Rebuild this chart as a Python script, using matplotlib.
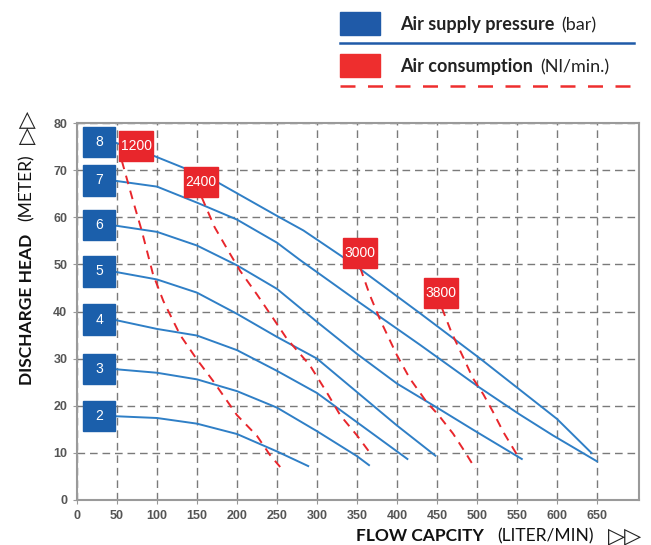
import numpy as np
import matplotlib.pyplot as plt
from matplotlib.patches import Rectangle
from matplotlib.lines import Line2D

# air supply pressure curves (bar) : flow l/min vs head m
pressures = [2, 3, 4, 5, 6, 7, 8]
flow2 = [45, 100, 150, 200, 250, 289]
head2 = [17.8, 17.4, 16.2, 14.0, 10.3, 7.2]
flow3 = [45, 100, 150, 200, 250, 300, 350, 365]
head3 = [27.8, 27.0, 25.6, 23.1, 19.6, 14.6, 9.3, 7.4]
flow4 = [45, 100, 150, 200, 250, 300, 350, 413]
head4 = [38.3, 36.3, 34.9, 31.8, 27.4, 22.7, 16.5, 8.7]
flow5 = [45, 100, 150, 200, 250, 300, 350, 400, 448]
head5 = [48.5, 46.8, 44.0, 39.5, 34.6, 30.0, 22.9, 15.8, 9.4]
flow6 = [45, 100, 150, 200, 250, 300, 350, 400, 450, 500, 556]
head6 = [58.3, 56.9, 54.0, 49.8, 44.8, 37.8, 31.0, 24.7, 19.6, 14.4, 8.7]
flow7 = [45, 100, 150, 200, 250, 279, 354, 429, 502, 552, 595, 650]
head7 = [67.8, 66.5, 63.1, 59.5, 54.6, 50.9, 41.8, 32.9, 24.0, 18.3, 13.7, 8.2]
flow8 = [45, 95, 133, 177, 252, 283, 331, 354, 429, 504, 552, 600, 643]
head8 = [76.0, 73.1, 70.5, 67.3, 60.1, 57.2, 51.7, 49.0, 39.6, 30.0, 23.6, 17.2, 10.0]

# air consumption lines (Nl/min)
consumptions = [1200, 2400, 3000, 3800]
c1200_flow = [56, 70, 81, 95, 108, 129, 150, 170, 200, 225, 241, 254]
c1200_head = [72, 63.5, 57.1, 47.9, 42.2, 35.0, 29.8, 25.3, 18.0, 13.6, 9.6, 7.0]
c2400_flow = [156, 172, 189, 204, 225, 245, 262, 291, 312, 329, 350, 368]
c2400_head = [64.2, 57.9, 52.9, 48.6, 43.6, 38.6, 34.3, 28.6, 22.9, 18.0, 13.7, 9.6]
c3000_flow = [354, 366, 379, 400, 416, 437, 452, 470, 485, 498]
c3000_head = [49.3, 43.5, 38.2, 30.7, 25.8, 20.8, 18.0, 14.1, 10.2, 6.6]
c3800_flow = [456, 468, 483, 495, 508, 520, 533, 550]
c3800_head = [40.8, 35.6, 30.2, 25.8, 22.4, 18.7, 14.4, 9.6]

x_ticks = list(range(0, 651, 50))
y_ticks = list(range(0, 81, 10))

BLUE = '#2f7fc6'
BOX_BLUE = '#1b5fab'
RED = '#e8262c'
W, H = 651, 545
TXT = ['Lato', 'DejaVu Sans']

fig = plt.figure(figsize=(W / 100, H / 100), dpi=100)
ax = fig.add_axes([77 / W, 1 - 500 / H, (639 - 77) / W, (500 - 123) / H])
ax.set_xlim(0, 702.5)
ax.set_ylim(0, 80)

ax.set_xticks(x_ticks)
ax.set_yticks(y_ticks)
ax.tick_params(length=3, color='#999999', labelsize=9, labelcolor='#555555', pad=4)
for lab in ax.get_xticklabels() + ax.get_yticklabels():
    lab.set_fontweight('bold')
    lab.set_family('Liberation Sans')
for sp in ax.spines.values():
    sp.set_color('#9a9a9a')
    sp.set_linewidth(1.5)
ax.grid(True, color='#7a7a7a', lw=1.0, linestyle=(0, (5.5, 3.5)))
ax.set_axisbelow(True)

flows = [flow2, flow3, flow4, flow5, flow6, flow7, flow8]
heads = [head2, head3, head4, head5, head6, head7, head8]
for p, f, h in zip(pressures, flows, heads):
    ax.plot(f, h, color=BLUE, lw=1.4, zorder=3)
    ax.add_patch(Rectangle((7.5, h[0] - 3.2), 40, 6.4, color=BOX_BLUE, zorder=4))
    ax.text(27.5, h[0], str(p), color='white', ha='center', va='center',
            fontsize=10, family='Liberation Sans', zorder=5)

c_flows = [c1200_flow, c2400_flow, c3000_flow, c3800_flow]
c_heads = [c1200_head, c2400_head, c3000_head, c3800_head]
label_x = [74, 155, 354, 455]
for c, f, h, lx in zip(consumptions, c_flows, c_heads, label_x):
    ax.plot(f, h, color=RED, lw=1.4, linestyle=(0, (4.5, 3.5)), zorder=3)
    ax.add_patch(Rectangle((lx - 21, h[0]), 42, 6.4, color=RED, zorder=6))
    ax.text(lx, h[0] + 3.2, str(c), color='white', ha='center', va='center',
            fontsize=10, family='Liberation Sans', zorder=7)


def fx(px):
    return px / W


def fy(py):
    return 1 - py / H


def chain(first, texts, gap, **kw):
    # put text pieces one after another on the same baseline
    r = fig.canvas.get_renderer()
    prev = first
    for s, weight in texts:
        bb = prev.get_window_extent(r)
        x, y = prev.get_position()
        prev = fig.text(fx(bb.x1 + gap), y, s, fontweight=weight, **kw)
    return prev


# legend
fig.add_artist(Rectangle((fx(340), fy(35)), 40 / W, 23 / H, color='#1f5aa8', transform=fig.transFigure))
fig.add_artist(Rectangle((fx(340), fy(77)), 40 / W, 23 / H, color='#ee2e2e', transform=fig.transFigure))
fig.add_artist(Line2D([fx(340), fx(634)], [fy(43), fy(43)], color='#1f5aa8', lw=1.8, transform=fig.transFigure))
fig.add_artist(Line2D([fx(340), fx(634)], [fy(86), fy(86)], color='#ee2e2e', lw=1.8,
                      linestyle=(0, (6, 5)), transform=fig.transFigure))
leg_kw = dict(fontsize=13, family=TXT, color='#222222')
t1 = fig.text(fx(400), fy(30), 'Air supply pressure', fontweight='bold', **leg_kw)
chain(t1, [('(bar)', 'normal')], 7, **leg_kw)
t2 = fig.text(fx(400), fy(72), 'Air consumption', fontweight='bold', **leg_kw)
chain(t2, [('(Nl/min.)', 'normal')], 7, **leg_kw)

# axis titles
lab_kw = dict(fontsize=12.5, family=TXT, color='#111111')
arrow_kw = dict(fontsize=16, family='DejaVu Sans', color='#222222')
fig.text(fx(484), fy(541), 'FLOW CAPCITY', fontweight='bold', ha='right', **lab_kw)
fig.text(fx(594), fy(541), '(LITER/MIN)', ha='right', **lab_kw)
fig.text(fx(642), fy(542), '\u25b7\u25b7', ha='right', **arrow_kw)
rot = dict(rotation=90, rotation_mode='anchor', ha='right', va='center')
fig.text(fx(27), fy(234), 'DISCHARGE HEAD', fontweight='bold', **rot, **lab_kw)
fig.text(fx(27), fy(154), '(METER)', **rot, **lab_kw)
fig.text(fx(27), fy(110), '\u25b7\u25b7', **rot, **arrow_kw)

fig.savefig('out.png', dpi=100)
